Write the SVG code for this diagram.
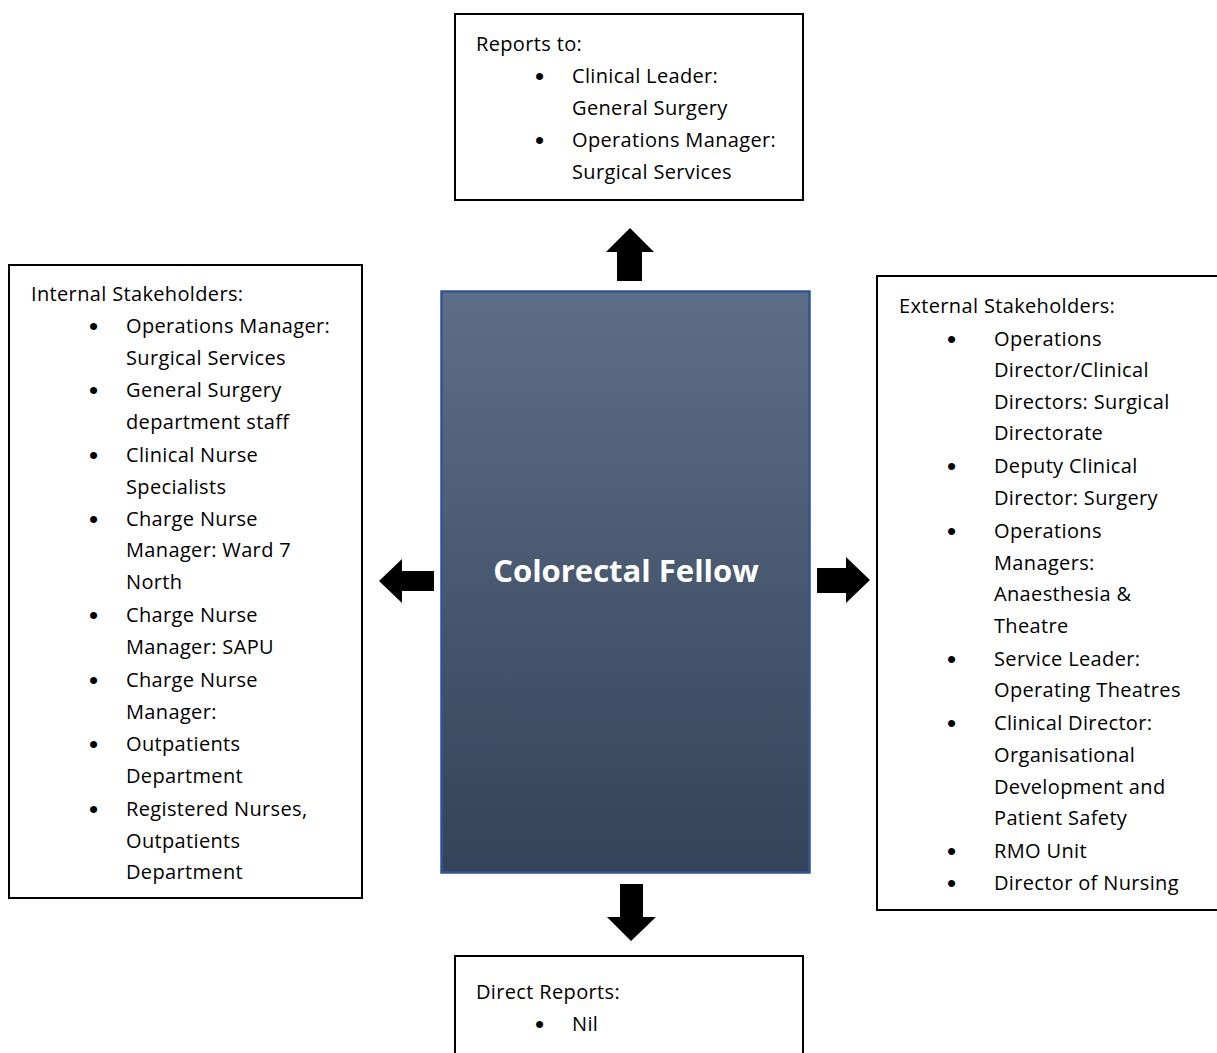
<svg xmlns="http://www.w3.org/2000/svg" width="1217" height="1053" viewBox="0 0 1217 1053">
<style>
.box{fill:#fff;stroke:#000;stroke-width:2}
.t{font-family:"Open Sans","Liberation Sans",sans-serif;font-size:20px;letter-spacing:0.35px;fill:#000}
.b{font-family:"Liberation Sans",sans-serif;font-size:26px;fill:#000}
.arrow{fill:#000}
.title{font-family:"Open Sans","Liberation Sans",sans-serif;font-size:31px;font-weight:bold;fill:#fff}
</style>
<defs>
<linearGradient id="g" x1="0" y1="0" x2="0" y2="1">
<stop offset="0" stop-color="#5e6e86"/>
<stop offset="1" stop-color="#33435a"/>
</linearGradient>
</defs>
<g id="reports-to">
<rect class="box" x="455" y="14" width="348" height="186"/>
<text class="t" x="476" y="51">Reports to:</text>
<text class="b" x="535" y="85">•</text><text class="t" x="572" y="83">Clinical Leader:</text>
<text class="t" x="572" y="115">General Surgery</text>
<text class="b" x="535" y="149">•</text><text class="t" x="572" y="147">Operations Manager:</text>
<text class="t" x="572" y="179">Surgical Services</text>
</g>
<g id="fellow">
<rect x="441.5" y="291.5" width="368" height="581" fill="url(#g)" stroke="#2f5597" stroke-width="2.5"/>
<text class="title" x="626" y="582" text-anchor="middle">Colorectal Fellow</text>
</g>
<g id="internal">
<rect class="box" x="9" y="265" width="353" height="633"/>
<text class="t" x="31" y="301">Internal Stakeholders:</text>
<text class="b" x="89" y="335">•</text><text class="t" x="126" y="333">Operations Manager:</text>
<text class="t" x="126" y="365">Surgical Services</text>
<text class="b" x="89" y="399">•</text><text class="t" x="126" y="397">General Surgery</text>
<text class="t" x="126" y="429">department staff</text>
<text class="b" x="89" y="464">•</text><text class="t" x="126" y="462">Clinical Nurse</text>
<text class="t" x="126" y="494">Specialists</text>
<text class="b" x="89" y="528">•</text><text class="t" x="126" y="526">Charge Nurse</text>
<text class="t" x="126" y="557">Manager: Ward 7</text>
<text class="t" x="126" y="589">North</text>
<text class="b" x="89" y="624">•</text><text class="t" x="126" y="622">Charge Nurse</text>
<text class="t" x="126" y="654">Manager: SAPU</text>
<text class="b" x="89" y="689">•</text><text class="t" x="126" y="687">Charge Nurse</text>
<text class="t" x="126" y="719">Manager:</text>
<text class="b" x="89" y="753">•</text><text class="t" x="126" y="751">Outpatients</text>
<text class="t" x="126" y="783">Department</text>
<text class="b" x="89" y="818">•</text><text class="t" x="126" y="816">Registered Nurses,</text>
<text class="t" x="126" y="848">Outpatients</text>
<text class="t" x="126" y="879">Department</text>
</g>
<g id="external">
<rect class="box" x="877" y="276" width="360" height="634"/>
<text class="t" x="899" y="313">External Stakeholders:</text>
<text class="b" x="947" y="348">•</text><text class="t" x="994" y="346">Operations</text>
<text class="t" x="994" y="377">Director/Clinical</text>
<text class="t" x="994" y="409">Directors: Surgical</text>
<text class="t" x="994" y="440">Directorate</text>
<text class="b" x="947" y="475">•</text><text class="t" x="994" y="473">Deputy Clinical</text>
<text class="t" x="994" y="505">Director: Surgery</text>
<text class="b" x="947" y="540">•</text><text class="t" x="994" y="538">Operations</text>
<text class="t" x="994" y="570">Managers:</text>
<text class="t" x="994" y="601">Anaesthesia &amp;</text>
<text class="t" x="994" y="633">Theatre</text>
<text class="b" x="947" y="668">•</text><text class="t" x="994" y="666">Service Leader:</text>
<text class="t" x="994" y="697">Operating Theatres</text>
<text class="b" x="947" y="732">•</text><text class="t" x="994" y="730">Clinical Director:</text>
<text class="t" x="994" y="762">Organisational</text>
<text class="t" x="994" y="794">Development and</text>
<text class="t" x="994" y="825">Patient Safety</text>
<text class="b" x="947" y="860">•</text><text class="t" x="994" y="858">RMO Unit</text>
<text class="b" x="947" y="892">•</text><text class="t" x="994" y="890">Director of Nursing</text>
</g>
<g id="direct-reports">
<rect class="box" x="455" y="956" width="348" height="120"/>
<text class="t" x="476" y="999">Direct Reports:</text>
<text class="b" x="535" y="1033">•</text><text class="t" x="572" y="1031">Nil</text>
</g>
<g id="connectors">
<polygon class="arrow" points="617,281 642,281 642,252 654,252 630,228 606,252 617,252"/>
<polygon class="arrow" points="434,571 434,591 402,591 402,603 379,581 402,559 402,571"/>
<polygon class="arrow" points="817,568 817,593 846,593 846,603 870,580 846,557 846,568"/>
<polygon class="arrow" points="620,884 643,884 643,917 656,917 631,941 607,917 620,917"/>
</g>
</svg>
